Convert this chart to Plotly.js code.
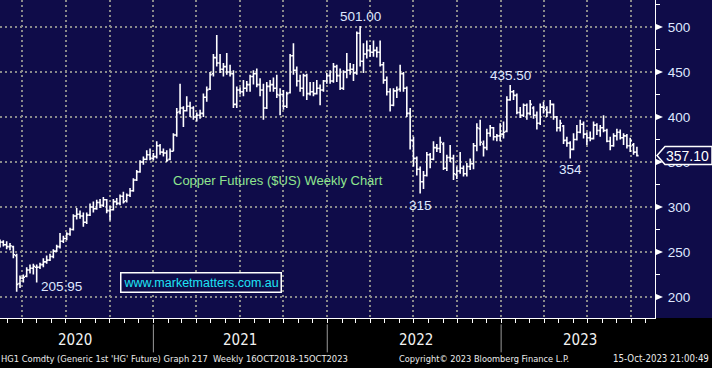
<!DOCTYPE html>
<html>
<head>
<meta charset="utf-8">
<script src="https://cdn.plot.ly/plotly-3.0.1.min.js"></script>
<style>html,body{margin:0;padding:0;background:#000;}#chart{width:712px;height:368px;}</style>
</head>
<body>
<div id="chart"></div>
<script>
// Weekly bars (Friday dates) starting 14 Feb 2020, one per week
const firstWeek = '2020-02-14';
const open = [
258,261,258,256,256,246,215,221,223,230,
232,233,233,236,239,241,245,251,256,262,
265,270,275,290,292,290,283,291,300,298,
305,302,308,296,297,306,304,312,307,313,
318,330,339,350,353,358,354,356,368,361,
360,353,362,380,406,410,407,412,410,400,
402,404,422,431,448,466,460,453,456,450,
448,414,430,428,432,436,445,448,436,430,
410,434,436,432,424,425,412,427,468,452,
440,432,446,426,428,426,432,430,440,446,
440,456,446,432,450,452,453,449,493,462,
470,474,472,474,472,458,441,428,413,429,
431,448,432,404,374,354,342,328,335,358,
353,366,365,370,343,355,354,336,340,343,
337,345,348,368,387,370,366,382,388,378,
379,381,384,419,428,424,405,402,413,404,
410,402,393,411,408,405,414,400,388,390,
374,371,364,375,383,392,381,377,376,391,
385,388,385,373,368,379,383,377,379,368,
369,361];
const high = [
264,263,262,260,257,248,224,225,233,236,
237,236,238,243,246,248,253,258,271,268,
272,277,292,299,296,294,294,304,306,308,
309,311,309,301,309,310,314,317,315,321,
332,341,352,356,363,365,360,373,370,365,
363,365,382,410,437,412,423,417,412,405,
408,426,434,450,470,491,470,460,471,458,
452,434,433,441,440,447,452,454,443,437,
439,441,444,447,432,430,428,470,482,456,
447,448,448,439,439,441,436,441,449,452,
460,458,454,452,471,460,459,495,501,482,
485,480,485,478,485,461,445,432,432,434,
458,450,434,410,378,356,345,340,361,360,
373,370,378,372,358,369,358,345,361,346,
349,354,371,393,397,374,387,391,389,381,
393,395,423,435.5,430,426,411,415,415,419,
412,406,415,417,412,419,415,401,397,391,
378,373,382,391,397,395,383,384,395,393,
391,402,387,378,382,387,386,382,381,377,
371,367];
const low = [
255,256,253,252,243,205.95,210,216,222,226,
225,216,231,233,237,240,243,250,254,260,
263,268,274,286,287,278,281,290,294,297,
299,300,293,285,296,302,302,304,305,311,
317,329,338,347,352,352,352,354,358,356,
350,352,362,378,403,389,406,400,397,395,
398,400,417,430,445,456,449,445,447,445,
410,410,425,423,428,428,436,433,423,397,
409,428,428,421,402,408,410,426,447,434,
428,423,419,424,423,425,413,428,437,437,
438,439,430,430,443,447,440,447,456,449,
465,467,467,466,456,437,424,406,412,421,
428,428,400,364,345,335,315,320,334,343,
352,361,360,341,340,350,330,331,337,334,
334,341,342,362,368,356,363,378,374,373,
373,376,383,418,419,403,399,400,397,402,
398,386,391,404,400,404,397,384,384,370,
367,354,363,374,382,376,369,373,375,380,
378,383,372,363,367,374,375,369,365,361,
358,356];
const close = [
261,258,256,257,247,214,221,222,230,232,
234,233,236,239,241,245,251,256,262,265,
270,275,290,292,290,283,291,300,298,305,
302,308,296,297,306,304,312,306,313,318,
330,339,350,353,358,354,356,368,361,360,
352,362,380,405,410,407,412,410,400,402,
404,422,430,447,466,460,453,456,450,448,
414,430,428,432,436,445,448,436,430,410,
434,436,432,425,425,412,426,468,452,440,
432,446,426,428,426,432,430,440,446,440,
456,446,432,450,452,453,449,493,462,470,
474,472,474,472,458,441,428,413,429,430,
448,432,404,374,354,342,328,335,358,353,
366,365,372,343,355,354,337,340,343,337,
345,348,368,388,372,366,382,388,378,379,
381,383,419,428,424,405,402,413,404,414,
402,393,411,410,405,414,400,388,393,374,
371,364,375,383,392,381,377,376,391,385,
388,385,373,368,379,383,377,379,368,374,
361,357.1];
const yTicks = [200,250,300,350,400,450,500];
const years = ['2020','2021','2022','2023'];
const yearPos = [0.1145,0.366,0.635,0.885];
const yearBreaks = ['2021-01-01','2022-01-01','2023-01-01'];
const callouts = [
  {i:108, field:'high', text:'501.00'},
  {i:153, field:'high', text:'435.50'},
  {i:126, field:'low',  text:'315'},
  {i:171, field:'low',  text:'354'},
  {i:5,   field:'low',  text:'205.95'}
];
const lastLabel = '357.10';

// weekly dates
const dates = [];
{
  const p = firstWeek.split('-').map(Number);
  for (let i = 0; i < close.length; i++) {
    dates.push(new Date(Date.UTC(p[0], p[1]-1, p[2] + 7*i)).toISOString().slice(0,10));
  }
}

const NAVY = '#0f0c49';
const GRID = '#8a8a8a';
const LABEL = '#dfe8ff';
const series = {high, low};

const trace = {
  type: 'ohlc', x: dates, open, high, low, close,
  increasing: {line: {color: '#ffffff', width: 1.6}},
  decreasing: {line: {color: '#ffffff', width: 1.6}},
  tickwidth: 0.5, hoverinfo: 'skip', showlegend: false
};

const shapes = [];
// black strip below plot
shapes.push({type:'rect', xref:'paper', yref:'paper', x0:-0.05, x1:1.2, y0:-0.2, y1:0, fillcolor:'#000000', line:{width:0}, layer:'below'});
// tick triangles on right axis
yTicks.forEach(v => shapes.push({type:'path', xref:'paper', yref:'y', xsizemode:'pixel', ysizemode:'pixel', xanchor:1, yanchor:v, path:'M1,3 L8,0 L1,-3 Z', fillcolor:'#ffffff', line:{width:0}, layer:'above'}));
// year separators
yearBreaks.forEach(d => shapes.push({type:'line', xref:'x', yref:'paper', x0:d, x1:d, y0:-0.02, y1:-0.108, line:{color:'#9a9a9a', width:1}, layer:'above'}));
// last price tag
shapes.push({type:'path', xref:'paper', yref:'y', xsizemode:'pixel', ysizemode:'pixel', xanchor:1, yanchor:close[close.length-1], path:'M2,0 L10,9 L57,9 L57,-9 L10,-9 Z', fillcolor:NAVY, line:{color:'#ffffff', width:1.5}, layer:'above'});

const annotations = [];
callouts.forEach(c => {
  const a = {x: dates[c.i], y: series[c.field][c.i], xref:'x', yref:'y', text:c.text, showarrow:false, xanchor:'center',
    font:{family:'Liberation Sans, Arial, sans-serif', size:13.5, color:LABEL}};
  if (c.field === 'high') { a.yanchor = 'bottom'; a.yshift = 0; }
  else { a.yanchor = 'top'; a.yshift = -2; }
  if (c.text === '205.95') { a.xanchor = 'left'; a.xshift = 22; a.yanchor = 'middle'; a.yshift = 5; }
  annotations.push(a);
});
annotations.push({xref:'paper', yref:'paper', x:0.4244, xanchor:'center', y:0.431, yanchor:'middle', text:'Copper Futures ($US) Weekly Chart', showarrow:false,
  font:{family:'Liberation Sans, Arial, sans-serif', size:13, color:'#8fe68f'}});
annotations.push({xref:'paper', yref:'paper', x:0.307, xanchor:'center', y:0.113, yanchor:'middle', text:'www.marketmatters.com.au', showarrow:false,
  bordercolor:'#ffffff', borderwidth:1.5, borderpad:2, bgcolor:NAVY,
  font:{family:'Liberation Sans, Arial, sans-serif', size:12.5, color:'#1ee3f5'}});
annotations.push({xref:'paper', yref:'y', x:1, xanchor:'left', xshift:9, y:close[close.length-1], text:lastLabel, showarrow:false,
  font:{family:'Liberation Sans, Arial, sans-serif', size:14, color:'#ffffff'}});
years.forEach((t, k) => annotations.push({xref:'paper', yref:'paper', x:yearPos[k], xanchor:'center', y:-0.069, yanchor:'middle', text:t, showarrow:false,
  font:{family:'Liberation Sans Narrow, DejaVu Sans Condensed, Arial Narrow, sans-serif', size:15, color:'#f2f2f2'}}));
const NARROW = 'Liberation Sans Narrow, DejaVu Sans Condensed, Arial Narrow, sans-serif';
annotations.push({xref:'paper', yref:'paper', x:-0.0015, xanchor:'left', y:-0.126, yanchor:'middle', text:"HG1 Comdty (Generic 1st 'HG' Future) Graph 217  Weekly 16OCT2018-15OCT2023", showarrow:false,
  font:{family:NARROW, size:9.3, color:'#ececec'}});
annotations.push({xref:'paper', yref:'paper', x:0.606, xanchor:'left', y:-0.126, yanchor:'middle', text:'Copyright\u00a9 2023 Bloomberg Finance L.P.', showarrow:false,
  font:{family:NARROW, size:9.2, color:'#ececec'}});
annotations.push({xref:'paper', yref:'paper', x:1.085, xanchor:'right', y:-0.126, yanchor:'middle', text:'15-Oct-2023 21:00:49', showarrow:false,
  font:{family:NARROW, size:9.6, color:'#ececec'}});

const layout = {
  width: 712, height: 368,
  margin: {l:0, r:57, t:0, b:50, pad:0},
  paper_bgcolor: NAVY, plot_bgcolor: NAVY,
  showlegend: false,
  xaxis: {
    type:'date', range:['2020-02-14','2023-11-20'], rangeslider:{visible:false},
    showgrid:true, gridcolor:GRID, griddash:'2px,3px', gridwidth:2,
    dtick:'M3', tick0:'2020-01-01', showticklabels:false,
    ticks:'outside', ticklen:4, tickcolor:'#ffffff', tickwidth:1,
    minor:{dtick:'M1', ticks:'outside', ticklen:4, tickcolor:'#ffffff', tickwidth:1, showgrid:false},
    showline:true, linecolor:'#ffffff', linewidth:1, zeroline:false, fixedrange:true
  },
  yaxis: {
    side:'right', range:[176.67, 530], tickvals:yTicks, ticktext:yTicks.map(String),
    showgrid:true, gridcolor:GRID, griddash:'2px,3px', gridwidth:2,
    ticks:'', ticklabelstandoff:9,
    minor:{dtick:25, tick0:0, ticks:'outside', ticklen:4, tickcolor:'#ffffff', tickwidth:1, showgrid:false},
    tickfont:{family:'Liberation Sans, Arial, sans-serif', size:13.5, color:LABEL},
    showline:true, linecolor:'#ffffff', linewidth:1, zeroline:false, fixedrange:true
  },
  shapes, annotations
};

Plotly.newPlot('chart', [trace], layout, {staticPlot:true, displayModeBar:false});
</script>
</body>
</html>
